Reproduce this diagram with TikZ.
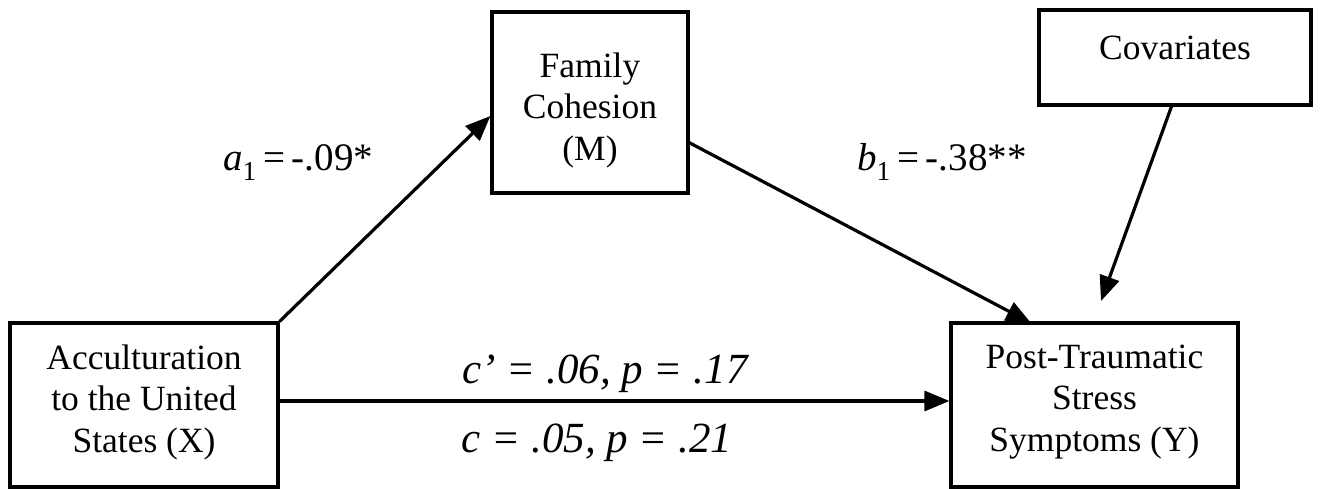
\documentclass[tikz,border=0pt]{standalone}
\usepackage{fontspec}
\setmainfont{Liberation Serif}
\usetikzlibrary{arrows.meta}
\begin{document}
\begin{tikzpicture}[x=1pt,y=-1pt,
  box/.style={draw,line width=3.2pt,inner sep=0pt},
  txt/.style={align=center,font=\fontsize{35.5}{41.5}\selectfont,inner sep=0pt},
  lbl/.style={font=\fontsize{39}{46}\selectfont,inner sep=0pt},
  clbl/.style={font=\fontsize{43}{48}\selectfont\itshape,inner sep=0pt},
  arr/.style={line width=3.2pt,-{Triangle[length=25pt,width=20pt]}}]
\useasboundingbox (0,0) rectangle (1321,489);
% boxes
\node[box,minimum width=268pt,minimum height=164pt] (X) at (144,405) {};
\node[txt] (Xt) at (144,402) {Acculturation\\to the United\\States (X)};
\node[box,minimum width=196pt,minimum height=181pt] (M) at (590,102.5) {};
\node[txt] (Mt) at (590,110) {Family\\Cohesion\\(M)};
\node[box,minimum width=272pt,minimum height=95pt] (C) at (1175,57.5) {};
\node[txt] (Ct) at (1175,48) {Covariates};
\node[box,minimum width=287pt,minimum height=164pt] (Y) at (1094.5,405) {};
\node[txt] (Yt) at (1094.5,402) {Post-Traumatic\\Stress\\Symptoms (Y)};
% connector points
\coordinate (Mr) at (688,142);
\coordinate (Ytop) at (1031,323);
\coordinate (Cb) at (1172,105);
\coordinate (Cend) at (1101,301);
% arrows
\draw[arr] (X.north east) -- (M.west |- 0,116);
\draw[arr] (Mr) -- (Ytop);
\draw[arr] (Cb) -- (Cend);
\draw[arr] (X.east |- 0,401) -- (Y.west |- 0,401);
% labels
\node[lbl,anchor=base west] (la) at (223,171) {\textit{a}\textsubscript{1}\,=\,-.09*};
\node[lbl,anchor=base west] (lb) at (857,171) {\textit{b}\textsubscript{1}\,=\,-.38**};
\node[clbl,anchor=base] (lc1) at (605,383) {c’ = .06, p = .17};
\node[clbl,anchor=base] (lc2) at (597,452) {c = .05, p = .21};
\end{tikzpicture}
\end{document}
